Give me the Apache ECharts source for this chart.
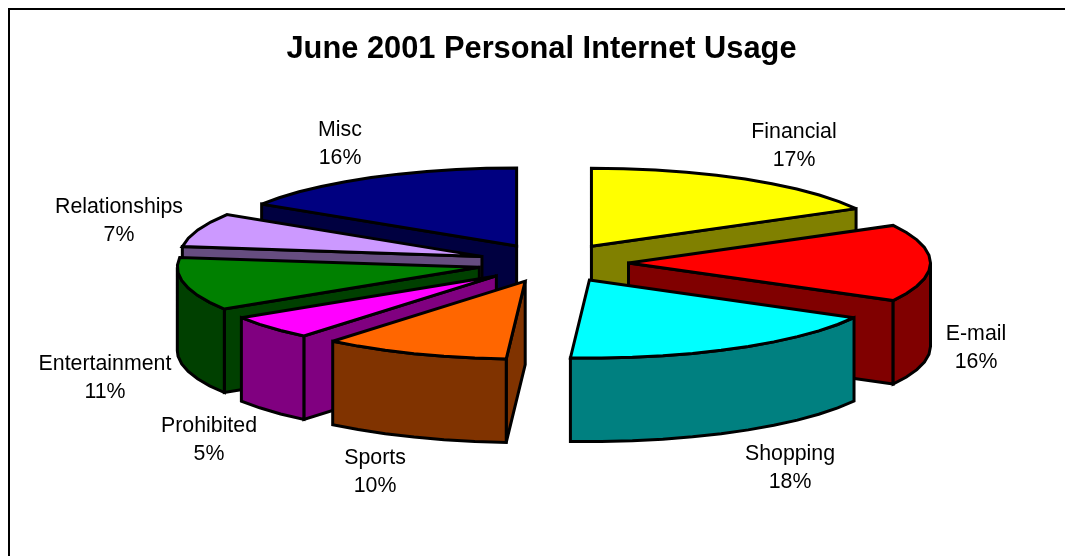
<!DOCTYPE html>
<html>
<head>
<meta charset="utf-8">
<title>June 2001 Personal Internet Usage</title>
<script src="https://cdn.jsdelivr.net/npm/echarts@6/dist/echarts.min.js"></script>
<style>
  html, body { margin: 0; padding: 0; background: #fff; }
  #chart { width: 1065px; height: 556px; }
</style>
</head>
<body>
<div id="chart"></div>
<script>
// Usage shares, clockwise from twelve o'clock
const categories = ['Financial', 'E-mail', 'Shopping', 'Sports', 'Prohibited', 'Entertainment', 'Relationships', 'Misc'];
const shares = [17, 16, 18, 10, 5, 11, 7, 16];
const topColors = ['#ffff00', '#ff0000', '#00ffff', '#ff6600', '#ff00ff', '#008000', '#cc99ff', '#000080'];
const wallColors = ['#808000', '#800000', '#008080', '#803300', '#800080', '#004000', '#664d80', '#000040'];

// Centre of each two-line slice label, in pixels
const labelCentres = [[794, 146], [976, 348], [790, 468], [375, 472], [209, 440], [105, 378], [119, 221], [340, 144]];

// The pie lives on a unit ground plane; the hidden axes squash it into an ellipse
const AXIS_X = 1.5, AXIS_Y = 2;
const EXPLODE = 0.25;      // slice offset, in radii
const THICKNESS = 1.07;    // wall height, in ground-plane units of y
const ARC_STEP = 6 * Math.PI / 180;

const total = shares.reduce((a, b) => a + b, 0);
let running = 0;
const slices = shares.map((share, i) => {
  const start = running / total * 2 * Math.PI;
  running += share;
  const end = running / total * 2 * Math.PI;
  return { index: i, share, start, end, mid: (start + end) / 2 };
});
// Back slices are painted first, so nearer ones overlap them
const paintOrder = slices.slice().sort((a, b) => Math.cos(b.mid) - Math.cos(a.mid));

function renderSlice(params, api) {
  const s = slices[api.value(0)];
  const ox = EXPLODE * Math.sin(s.mid), oy = EXPLODE * Math.cos(s.mid);
  const top = (u, v) => api.coord([ox + u, oy + v]);
  const low = (u, v) => api.coord([ox + u, oy + v - THICKNESS]);
  const rim = (a, f) => f(Math.sin(a), Math.cos(a));
  const edgeStyle = (fill) => ({ fill, stroke: '#000', lineWidth: 3, lineJoin: 'miter', miterLimit: 2.5 });
  const poly = (points, fill) => ({ type: 'polygon', shape: { points }, style: edgeStyle(fill) });

  const angles = [];
  const n = Math.max(1, Math.round((s.end - s.start) / ARC_STEP));
  for (let k = 0; k <= n; k++) angles.push(s.start + (s.end - s.start) * k / n);

  const children = [];
  // Cut faces that turn toward the viewer
  if (Math.sin(s.start) < -1e-6) {
    children.push(poly([top(0, 0), rim(s.start, top), rim(s.start, low), low(0, 0)], wallColors[s.index]));
  }
  if (Math.sin(s.end) > 1e-6) {
    children.push(poly([top(0, 0), rim(s.end, top), rim(s.end, low), low(0, 0)], wallColors[s.index]));
  }
  // Outer wall along the front half of the rim
  const front = angles.filter(a => Math.cos(a) <= 0);
  const lo = Math.max(s.start, Math.PI / 2), hi = Math.min(s.end, 3 * Math.PI / 2);
  if (hi > lo) {
    const arc = [lo].concat(front.filter(a => a > lo && a < hi), [hi]);
    const upper = arc.map(a => rim(a, top));
    const lower = arc.map(a => rim(a, low)).reverse();
    children.push(poly(upper.concat(lower), wallColors[s.index]));
  }
  // Top face
  children.push(poly([top(0, 0)].concat(angles.map(a => rim(a, top))), topColors[s.index]));
  // Name and share
  const c = labelCentres[s.index];
  children.push({
    type: 'text',
    x: c[0], y: c[1], z2: 50,
    style: {
      text: categories[s.index] + '\n' + s.share + '%',
      fill: '#000', font: '21.33px "Liberation Sans", Arial, sans-serif',
      lineHeight: 28, align: 'center', verticalAlign: 'middle'
    }
  });
  return { type: 'group', children };
}

const chart = echarts.init(document.getElementById('chart'), null, { renderer: 'canvas' });
chart.setOption({
  animation: false,
  backgroundColor: '#ffffff',
  title: {
    text: 'June 2001 Personal Internet Usage',
    left: 536.5, top: 29, textAlign: 'center',
    textStyle: { fontFamily: '"Liberation Sans", Arial, sans-serif', fontWeight: 'bold', fontSize: 30.8, color: '#000' }
  },
  grid: { left: 100, width: 906, top: 107, height: 312 },
  xAxis: { type: 'value', min: -AXIS_X, max: AXIS_X, show: false },
  yAxis: { type: 'value', min: -AXIS_Y, max: AXIS_Y, show: false },
  // Chart frame: only the top and left edges fall inside the window
  graphic: [{
    type: 'polyline', silent: true,
    shape: { points: [[1065, 9], [9, 9], [9, 556]] },
    style: { stroke: '#000', lineWidth: 2, fill: null }
  }],
  series: [{
    type: 'custom',
    coordinateSystem: 'cartesian2d',
    clip: false,
    renderItem: renderSlice,
    data: paintOrder.map(s => [s.index]),
    encode: { x: [], y: [] }
  }]
});
</script>
</body>
</html>
